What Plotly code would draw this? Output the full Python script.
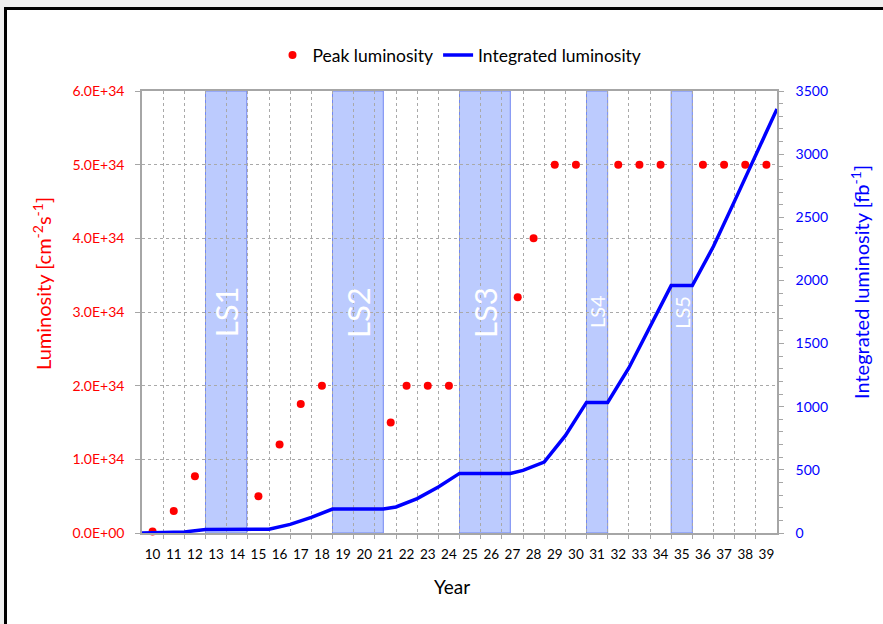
import plotly.graph_objects as go

# ---- data ---------------------------------------------------------------
YEARS = list(range(10, 40))
YEAR_LABELS = [str(y) for y in YEARS]

# peak luminosity (cm^-2 s^-1), x = year (two-digit), fractional where the run starts late
PEAK_X = [10, 11, 12, 15, 16, 17, 18, 21.25, 22, 23, 24, 27.25, 28,
          29, 30, 32, 33, 34, 36, 37, 38, 39]
PEAK_Y = [0.02e34, 0.3e34, 0.77e34, 0.5e34, 1.2e34, 1.75e34, 2.0e34, 1.5e34,
          2.0e34, 2.0e34, 2.0e34, 3.2e34, 4.0e34,
          5.0e34, 5.0e34, 5.0e34, 5.0e34, 5.0e34, 5.0e34, 5.0e34, 5.0e34, 5.0e34]

# integrated luminosity (fb^-1)
INT_X = [9.5, 11.5, 12.5, 15.5, 16.5, 17.5, 18.5, 20.9, 21.5, 22.5, 23.5, 24.5,
         26.9, 27.5, 28.5, 29.5, 30.5, 31.5, 32.5, 33.5, 34.5, 35.5,
         36.5, 37.5, 38.5, 39.5]
INT_Y = [0, 8, 28, 30, 68, 124, 190, 190, 206, 272, 365, 472,
         472, 496, 562, 771, 1034, 1034, 1307, 1630, 1959, 1959,
         2270, 2630, 2995, 3358]

# long shutdowns
LS_NAMES = ["LS1", "LS2", "LS3", "LS4", "LS5"]
LS_START = [12.5, 18.5, 24.5, 30.5, 34.5]
LS_END = [14.45, 20.9, 26.9, 31.5, 35.5]
LS_FONT = [31, 31, 31, 20, 20]

LUMI_TICKS = [0, 1e34, 2e34, 3e34, 4e34, 5e34, 6e34]
LUMI_LABELS = ["0.0E+00", "1.0E+34", "2.0E+34", "3.0E+34", "4.0E+34", "5.0E+34", "6.0E+34"]
INT_TICKS = [0, 500, 1000, 1500, 2000, 2500, 3000, 3500]

# ---- layout geometry ----------------------------------------------------
W, H = 883, 624
ML, MR, MT, MB = 142, 106, 91, 91
PW, PH = W - ML - MR, H - MT - MB

FONT = "Lato"
RED = "#ff0000"
BLUE = "#0000ff"
GRID = "#a9a9a9"
AXIS = "#a6a6a6"


def px(x):
    return (x - ML) / PW


def py(y):
    return (H - MB - y) / PH


fig = go.Figure()

fig.add_trace(go.Scatter(
    x=PEAK_X, y=PEAK_Y, mode="markers", name="Peak luminosity",
    marker=dict(color=RED, size=8), yaxis="y", cliponaxis=False,
))
fig.add_trace(go.Scatter(
    x=INT_X, y=INT_Y, mode="lines", name="Integrated luminosity",
    line=dict(color=BLUE, width=3.5), yaxis="y2",
))

shapes = []
annotations = []

# shutdown bands
for name, x0, x1, fs in zip(LS_NAMES, LS_START, LS_END, LS_FONT):
    shapes.append(dict(
        type="rect", xref="x", yref="paper", x0=x0, x1=x1, y0=0, y1=1,
        fillcolor="#bccbfe", line=dict(color="#7388f2", width=1), layer="below",
    ))
    annotations.append(dict(
        x=(x0 + x1) / 2, y=3.0e34, xref="x", yref="y", text=name,
        textangle=-90, showarrow=False,
        font=dict(family=FONT, size=fs, color="white"),
    ))

# outer frame
shapes += [
    dict(type="rect", xref="paper", yref="paper", x0=px(0), x1=px(W), y0=py(0), y1=py(7),
         fillcolor="#efefef", line=dict(width=0), layer="above"),
    dict(type="rect", xref="paper", yref="paper", x0=px(0), x1=px(4), y0=py(0), y1=py(H),
         fillcolor="#efefef", line=dict(width=0), layer="above"),
    dict(type="line", xref="paper", yref="paper", x0=px(4), x1=px(W), y0=py(8.5), y1=py(8.5),
         line=dict(color="black", width=3), layer="above"),
    dict(type="line", xref="paper", yref="paper", x0=px(5.5), x1=px(5.5), y0=py(7), y1=py(H),
         line=dict(color="black", width=3), layer="above"),
]

# axis titles
annotations += [
    dict(x=px(42), y=py(284), xref="paper", yref="paper", showarrow=False, textangle=-90,
         xanchor="center", yanchor="middle",
         text="Luminosity [cm<sup>-2</sup>s<sup>-1</sup>]",
         font=dict(family=FONT, size=20, color=RED)),
    dict(x=px(860), y=py(282), xref="paper", yref="paper", showarrow=False, textangle=-90,
         xanchor="center", yanchor="middle",
         text="Integrated luminosity [fb<sup>-1</sup>]",
         font=dict(family=FONT, size=20, color=BLUE)),
    dict(x=px(452), y=py(586), xref="paper", yref="paper", showarrow=False,
         xanchor="center", yanchor="middle",
         text="Year", font=dict(family=FONT, size=19, color="black")),
]

fig.update_layout(
    width=W, height=H,
    margin=dict(l=ML, r=MR, t=MT, b=MB, pad=0),
    paper_bgcolor="white", plot_bgcolor="white",
    font=dict(family=FONT, size=13, color="black"),
    showlegend=True,
    legend=dict(orientation="h", x=0.5, xanchor="center", y=py(55), yanchor="middle",
                font=dict(family=FONT, size=17.5, color="black"),
                bgcolor="rgba(0,0,0,0)", itemwidth=30, tracegroupgap=0),
    shapes=shapes,
    annotations=annotations,
    xaxis=dict(
        range=[9.5, 39.5], tickmode="array", tickvals=YEARS, ticktext=YEAR_LABELS,
        showgrid=False, ticks="", ticklabelstandoff=8,
        tickfont=dict(family=FONT, size=13.5, color="black"),
        showline=True, linecolor=AXIS, linewidth=1.5, mirror=True, zeroline=False,
        minor=dict(tickmode="array", tickvals=[y + 0.5 for y in YEARS[:-1]],
                   showgrid=True, gridcolor=GRID, griddash="3px,3px", gridwidth=1,
                   ticks="outside", ticklen=4, tickcolor=AXIS),
    ),
    yaxis=dict(
        range=[0, 6e34], tickmode="array", tickvals=LUMI_TICKS, ticktext=LUMI_LABELS,
        showgrid=True, gridcolor=GRID, griddash="3px,3px", gridwidth=1,
        ticks="outside", ticklen=5, tickcolor=AXIS, ticklabelstandoff=8,
        tickfont=dict(family=FONT, size=14, color=RED),
        showline=True, linecolor=AXIS, linewidth=1.5, zeroline=False,
    ),
    yaxis2=dict(
        range=[0, 3500], tickmode="array", tickvals=INT_TICKS, overlaying="y", side="right",
        showgrid=False, ticks="outside", ticklen=5, tickcolor=AXIS, ticklabelstandoff=9,
        tickfont=dict(family=FONT, size=14, color=BLUE),
        showline=True, linecolor=AXIS, linewidth=1.5, zeroline=False,
        minor=dict(dtick=100, ticks="outside", ticklen=4, tickcolor=AXIS, showgrid=False),
    ),
)

fig.write_html("out.html")
